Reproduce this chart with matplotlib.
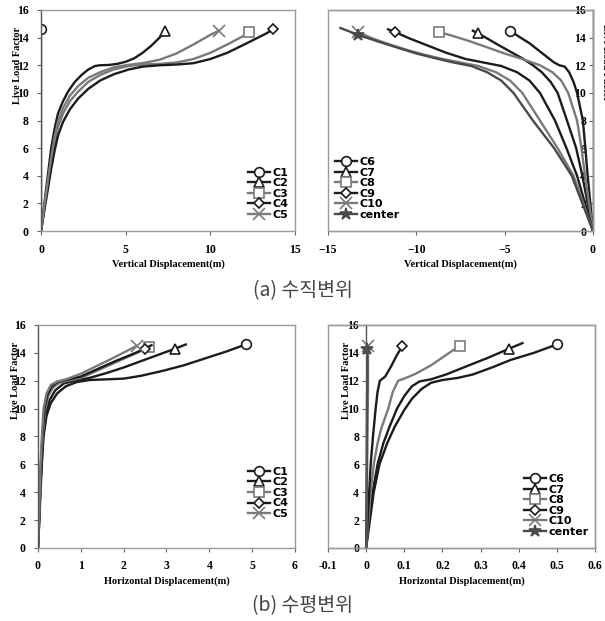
import numpy as np
import matplotlib.pyplot as plt
from matplotlib.patches import Rectangle

plt.rcParams["font.family"] = ["Liberation Serif", "DejaVu Serif"]
plt.rcParams["font.weight"] = "bold"
plt.rcParams["axes.labelweight"] = "bold"
plt.rcParams["font.size"] = 8.5

# vertical displacement, supports C1-C5 (m)
v_c1_x = [0, 0, 0, 0]
v_c1_y = [0, 5, 10, 14.6]
v_c2_x = [0, 0.15, 0.3, 0.45, 0.6, 0.8, 1.0, 1.3, 1.6, 2.0, 2.4, 2.8, 3.2, 3.5, 4.0, 4.5, 5.0, 5.5, 6.0, 6.5, 7.0, 7.3]
v_c2_y = [0, 1.5, 3, 4.5, 6, 7.4, 8.5, 9.4, 10.1, 10.8, 11.3, 11.7, 11.95, 12.0, 12.02, 12.1, 12.25, 12.5, 12.9, 13.4, 14.0, 14.45]
v_c3_x = [0, 0.2, 0.4, 0.6, 0.8, 1.0, 1.3, 1.7, 2.2, 2.8, 3.5, 4.3, 5.2, 6, 7, 8, 9, 10, 11, 12, 12.3]
v_c3_y = [0, 1.7, 3.4, 5.0, 6.4, 7.5, 8.5, 9.4, 10.1, 10.8, 11.3, 11.7, 11.95, 12.05, 12.1, 12.2, 12.45, 12.9, 13.5, 14.15, 14.4]
v_c4_x = [0, 0.2, 0.4, 0.6, 0.8, 1.0, 1.3, 1.7, 2.2, 2.8, 3.5, 4.3, 5.2, 6, 7, 8, 9, 10, 11, 12, 13.3, 13.7]
v_c4_y = [0, 1.5, 3, 4.5, 5.8, 6.9, 7.9, 8.8, 9.6, 10.3, 10.9, 11.35, 11.7, 11.9, 12.0, 12.05, 12.15, 12.45, 12.9, 13.5, 14.3, 14.6]
v_c5_x = [0, 0.2, 0.4, 0.6, 0.8, 1.0, 1.3, 1.7, 2.2, 2.8, 3.5, 4.3, 5.0, 6, 7, 8, 9, 10, 10.5]
v_c5_y = [0, 1.8, 3.6, 5.3, 6.8, 7.9, 8.9, 9.8, 10.5, 11.1, 11.5, 11.85, 12.0, 12.15, 12.4, 12.85, 13.5, 14.2, 14.5]

# vertical displacement, C6-C10 and center (m)
v_c6_x = [0, -0.15, -0.3, -0.43, -0.57, -0.9, -1.1, -1.35, -1.6, -1.9, -2.2, -2.6, -3.1, -3.6, -4.1, -4.7]
v_c6_y = [0, 2, 4, 6, 8, 10, 10.8, 11.5, 11.9, 12.0, 12.2, 12.6, 13.1, 13.6, 14.0, 14.5]
v_c7_x = [0, -0.3, -0.6, -0.95, -1.47, -2.0, -2.4, -2.9, -3.4, -4.0, -4.7, -5.4, -6.0, -6.5, -6.8]
v_c7_y = [0, 2, 4, 6, 8, 10, 10.8, 11.5, 12.0, 12.5, 13.0, 13.5, 13.95, 14.3, 14.5]
v_c8_x = [0, -0.22, -0.45, -0.65, -0.9, -1.4, -1.8, -2.3, -3.0, -4, -5, -6, -7, -8, -8.7]
v_c8_y = [0, 2, 4, 6, 8, 10, 10.9, 11.5, 12.0, 12.45, 12.85, 13.3, 13.75, 14.15, 14.4]
v_c9_x = [0, -0.45, -0.9, -1.5, -2.15, -3.0, -3.6, -4.3, -5.2, -6.2, -7.2, -8.3, -9.4, -10.4, -11.2, -11.6]
v_c9_y = [0, 2, 4, 6, 8, 10, 10.9, 11.5, 11.95, 12.2, 12.45, 12.9, 13.45, 13.95, 14.4, 14.6]
v_c10_x = [0, -0.55, -1.1, -2.0, -3.0, -4.0, -4.7, -5.5, -6.5, -7.5, -8.5, -9.5, -10.5, -11.5, -12.5, -13.3]
v_c10_y = [0, 2, 4, 6, 8, 10, 10.9, 11.5, 11.95, 12.2, 12.45, 12.75, 13.1, 13.5, 13.95, 14.4]
v_cen_x = [0, -0.6, -1.2, -2.2, -3.4, -4.5, -5.2, -6.0, -6.9, -7.9, -8.9, -10, -11, -12, -13.3, -14.3]
v_cen_y = [0, 2, 4, 6, 8, 10, 10.9, 11.5, 11.95, 12.2, 12.5, 12.85, 13.25, 13.65, 14.2, 14.7]

# horizontal displacement, C1-C5 (m)
h_c1_x = [0, 0.03, 0.06, 0.09, 0.13, 0.2, 0.3, 0.45, 0.65, 0.9, 1.2, 1.6, 2.0, 2.4, 2.9, 3.4, 3.9, 4.4, 4.85]
h_c1_y = [0, 2, 4, 6, 8, 9.5, 10.4, 11.1, 11.6, 11.9, 12.05, 12.1, 12.15, 12.35, 12.7, 13.1, 13.6, 14.1, 14.6]
h_c2_x = [0, 0.03, 0.05, 0.08, 0.12, 0.18, 0.27, 0.4, 0.6, 0.85, 1.2, 1.6, 2.0, 2.4, 2.8, 3.2, 3.45]
h_c2_y = [0, 2, 4, 6, 8, 9.6, 10.6, 11.3, 11.8, 12.0, 12.2, 12.55, 12.95, 13.4, 13.85, 14.3, 14.6]
h_c3_x = [0, 0.02, 0.05, 0.07, 0.11, 0.16, 0.24, 0.35, 0.5, 0.7, 1.0, 1.4, 1.8, 2.2, 2.6]
h_c3_y = [0, 2, 4, 6, 8, 9.8, 10.9, 11.5, 11.85, 12.0, 12.2, 12.75, 13.3, 13.85, 14.4]
h_c4_x = [0, 0.02, 0.04, 0.07, 0.1, 0.15, 0.22, 0.32, 0.45, 0.65, 1.0, 1.4, 1.8, 2.2, 2.5, 2.65]
h_c4_y = [0, 2, 4, 6, 8, 10, 11.0, 11.6, 11.9, 12.05, 12.3, 12.85, 13.4, 13.9, 14.3, 14.55]
h_c5_x = [0, 0.02, 0.04, 0.06, 0.09, 0.13, 0.2, 0.3, 0.45, 0.65, 1.0, 1.4, 1.8, 2.3]
h_c5_y = [0, 2, 4, 6, 8, 10, 11.1, 11.7, 11.95, 12.1, 12.5, 13.1, 13.7, 14.5]

# horizontal displacement, C6-C10 and center (m)
h_c6_x = [0, 0.01, 0.02, 0.035, 0.055, 0.075, 0.1, 0.12, 0.145, 0.17, 0.2, 0.24, 0.28, 0.33, 0.38, 0.44, 0.5]
h_c6_y = [0, 2, 4, 6, 7.5, 8.7, 9.9, 10.7, 11.4, 11.85, 12.05, 12.2, 12.45, 12.95, 13.5, 14.0, 14.6]
h_c7_x = [0, 0.008, 0.017, 0.03, 0.045, 0.06, 0.081, 0.1, 0.12, 0.14, 0.17, 0.21, 0.26, 0.32, 0.375, 0.41]
h_c7_y = [0, 2, 4, 6, 7.5, 8.6, 10, 10.9, 11.6, 11.95, 12.1, 12.45, 13.0, 13.65, 14.3, 14.7]
h_c8_x = [0, 0.006, 0.012, 0.02, 0.03, 0.04, 0.058, 0.07, 0.084, 0.1, 0.13, 0.17, 0.21, 0.245]
h_c8_y = [0, 2, 4, 6, 7.5, 8.6, 10, 11.2, 12.0, 12.15, 12.5, 13.1, 13.85, 14.5]
h_c9_x = [0, 0.004, 0.008, 0.012, 0.018, 0.025, 0.03, 0.036, 0.05, 0.065, 0.08, 0.095]
h_c9_y = [0, 2, 4, 6, 8, 10, 11.2, 12.0, 12.3, 13.0, 13.8, 14.5]
h_c10_x = [0, 0.002, 0.004, 0.005, 0.005]
h_c10_y = [0, 4, 9, 12, 14.5]
h_cen_x = [0, 0.001, 0.002, 0.003, 0.003]
h_cen_y = [0, 4, 9, 12, 14.3]

labels_a = ["C1", "C2", "C3", "C4", "C5"]
labels_b = ["C6", "C7", "C8", "C9", "C10", "center"]

BLACK = "#1c1c1c"
GRAY = "#7a7a7a"
DGRAY = "#4a4a4a"
FRAME = "#9a9a9a"

styles_a = [("o", BLACK), ("^", BLACK), ("s", GRAY), ("D", BLACK), ("x", GRAY)]
styles_b = [("o", BLACK), ("^", BLACK), ("s", GRAY), ("D", BLACK), ("x", GRAY), ("*", DGRAY)]

msizes = {"o": 7, "s": 7, "^": 6.5, "D": 5.5, "x": 9, "*": 9}


def add_curve(ax, xs, ys, marker, color, label, mark_at=None):
    # marker only at the last loading step
    if mark_at is None:
        mark_at = len(xs) - 1
    open_marker = marker not in ("x", "*")
    ax.plot(xs, ys, color=color, lw=1.7, marker=marker, markevery=[mark_at],
            markersize=msizes[marker], markerfacecolor="white" if open_marker else color,
            markeredgecolor=color, markeredgewidth=1.2, label=label)


def style_axes(ax, xlim, xticks, xlabel):
    ax.set_xlim(*xlim)
    ax.set_ylim(0, 16)
    ax.set_xticks(xticks)
    ax.set_yticks(range(0, 17, 2))
    for side in ax.spines:
        ax.spines[side].set_color(FRAME)
        ax.spines[side].set_linewidth(1.0)
    ax.tick_params(direction="out", length=3, width=0.8, color="#666666", pad=6,
                   labelsize=8.5)
    ax.set_xlabel(xlabel, fontsize=7.5, labelpad=3)


def legend(ax, loc, anchor):
    leg = ax.legend(loc=loc, bbox_to_anchor=anchor, frameon=False, handlelength=2.0,
                    handletextpad=0.2, labelspacing=0.05, borderaxespad=0.2,
                    prop={"family": "DejaVu Sans", "weight": "bold", "size": 8})
    return leg


def inner_y_axis(ax):
    # y axis drawn at x = 0 inside a grey plot-area box
    ax.spines["left"].set_position(("data", 0))
    ax.spines["left"].set_color("#555555")
    ax.tick_params(axis="y", pad=2)
    ax.add_patch(Rectangle((0, 0), 1, 1, transform=ax.transAxes, fill=False,
                           edgecolor=FRAME, lw=1.0, clip_on=False))


fig = plt.figure(figsize=(6.05, 6.21), dpi=100)

ax1 = fig.add_axes([0.0678, 0.628, 0.4198, 0.3559])
ax2 = fig.add_axes([0.5421, 0.628, 0.4380, 0.3559])
ax3 = fig.add_axes([0.0628, 0.1176, 0.4248, 0.3591])
ax4 = fig.add_axes([0.5421, 0.1176, 0.4413, 0.3591])

####################################################################################
# (a) vertical displacement
####################################################################################
v_a = [(v_c1_x, v_c1_y), (v_c2_x, v_c2_y), (v_c3_x, v_c3_y), (v_c4_x, v_c4_y), (v_c5_x, v_c5_y)]
for (xs, ys), (m, c), lab in zip(v_a, styles_a, labels_a):
    add_curve(ax1, xs, ys, m, c, lab)
style_axes(ax1, (0, 15), [0, 5, 10, 15], "Vertical Displacement(m)")
ax1.spines["left"].set_color("#555555")
ax1.set_ylabel("Live Load Factor", fontsize=7.5)
ax1.yaxis.set_label_coords(-0.075, 0.75)
legend(ax1, "lower right", (1.0, 0.02))

v_b = [(v_c6_x, v_c6_y), (v_c7_x, v_c7_y), (v_c8_x, v_c8_y), (v_c9_x, v_c9_y),
       (v_c10_x, v_c10_y), (v_cen_x, v_cen_y)]
for (xs, ys), (m, c), lab in zip(v_b, styles_b, labels_b):
    mark = len(xs) - 2 if lab in ("C7", "C9", "center") else None
    add_curve(ax2, xs, ys, m, c, lab, mark_at=mark)
style_axes(ax2, (-15, 0), [-15, -10, -5, 0], "Vertical Displacement(m)")
inner_y_axis(ax2)
ax2.set_ylabel("Live Load Factor", fontsize=7.5, rotation=270)
ax2.yaxis.set_label_coords(1.03, 0.76)
legend(ax2, "lower left", (0.0, 0.02))

####################################################################################
# (b) horizontal displacement
####################################################################################
h_a = [(h_c1_x, h_c1_y), (h_c2_x, h_c2_y), (h_c3_x, h_c3_y), (h_c4_x, h_c4_y), (h_c5_x, h_c5_y)]
for (xs, ys), (m, c), lab in zip(h_a, styles_a, labels_a):
    mark = len(xs) - 2 if lab in ("C2", "C4") else None
    add_curve(ax3, xs, ys, m, c, lab, mark_at=mark)
style_axes(ax3, (0, 6), range(0, 7), "Horizontal Displacement(m)")
ax3.spines["left"].set_color("#555555")
ax3.set_ylabel("Live Load Factor", fontsize=7.5)
ax3.yaxis.set_label_coords(-0.07, 0.75)
legend(ax3, "lower right", (1.0, 0.1))

h_b = [(h_c6_x, h_c6_y), (h_c7_x, h_c7_y), (h_c8_x, h_c8_y), (h_c9_x, h_c9_y),
       (h_c10_x, h_c10_y), (h_cen_x, h_cen_y)]
for (xs, ys), (m, c), lab in zip(h_b, styles_b, labels_b):
    mark = len(xs) - 2 if lab == "C7" else None
    add_curve(ax4, xs, ys, m, c, lab, mark_at=mark)
style_axes(ax4, (-0.1, 0.6), np.round(np.arange(-0.1, 0.61, 0.1), 1), "Horizontal Displacement(m)")
ax4.set_xticklabels(["-0.1", "0", "0.1", "0.2", "0.3", "0.4", "0.5", "0.6"])
inner_y_axis(ax4)
ax4.set_ylabel("Live Load Factor", fontsize=7.5)
ax4.yaxis.set_label_coords(0.085, 0.75)
legend(ax4, "lower right", (1.0, 0.02))

####################################################################################
# captions
####################################################################################
cap = {"family": ["Noto Sans CJK KR", "DejaVu Sans"], "fontsize": 14, "color": "#444444",
       "weight": "normal", "ha": "center", "va": "center"}
fig.text(0.5, 1 - 291 / 621, "(a) 수직변위", **cap)
fig.text(0.5, 1 - 606 / 621, "(b) 수평변위", **cap)

plt.savefig("out.png", dpi=100, facecolor="white")
